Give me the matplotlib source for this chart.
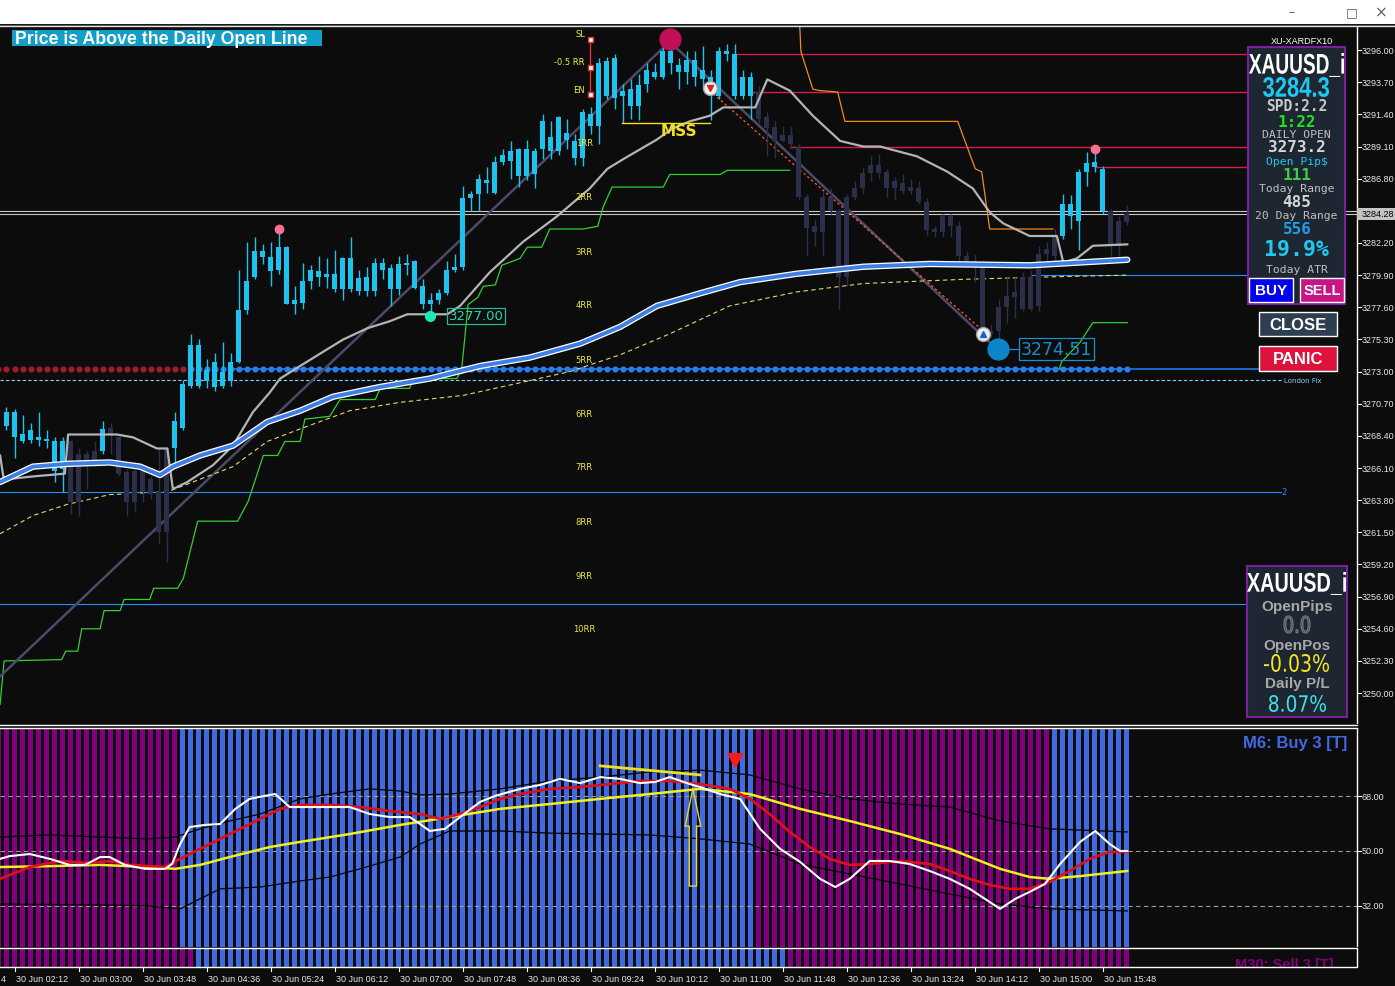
import numpy as np
import matplotlib
matplotlib.use("Agg")
import matplotlib.pyplot as plt
from matplotlib.patches import Rectangle, PathPatch
from matplotlib.lines import Line2D
from matplotlib.textpath import TextPath
from matplotlib.font_manager import FontProperties
from matplotlib.transforms import Affine2D

W, H = 1395, 987

# ---------------- price data: M6 bars, index 0 = 30 Jun 02:06 ----------------
opens = [3269.1, 3270.1, 3268.0, 3268.8, 3268.1, 3268.2, 3268.0, 3266.0, 3268.0, 3263.7,
         3267.1, 3266.5, 3267.3, 3269.0, 3268.3, 3265.8, 3263.7, 3265.9, 3264.3, 3264.4,
         3261.5, 3267.5, 3269.0, 3272.0, 3274.9, 3272.3, 3273.7, 3272.0, 3272.3, 3273.7,
         3277.4, 3279.8, 3281.2, 3281.2, 3280.3, 3281.9, 3277.8, 3277.9, 3279.5, 3280.2,
         3279.8, 3280.0, 3278.9, 3281.1, 3278.8, 3279.8, 3278.8, 3280.3, 3280.4, 3278.9,
         3280.8, 3280.9, 3279.1, 3277.8, 3278.1, 3278.6, 3280.3, 3280.5, 3285.4, 3285.7,
         3286.5, 3285.8, 3288.0, 3288.8, 3288.9, 3287.0, 3288.8, 3288.9, 3289.8, 3288.8,
         3290.1, 3289.5, 3288.3, 3291.4, 3290.6, 3295.2, 3292.6, 3293.1, 3292.0, 3293.5,
         3293.6, 3294.1, 3294.1, 3295.9, 3294.9, 3294.4, 3295.3, 3294.6, 3293.7, 3292.7,
         3295.9, 3295.7, 3292.7, 3294.1, 3293.0, 3291.2, 3290.5, 3289.9, 3289.9, 3289.1,
         3285.5, 3283.4, 3283.0, 3285.5, 3284.5, 3279.8, 3285.5, 3286.1, 3287.2, 3287.8,
         3287.3, 3286.6, 3286.5, 3286.2, 3286.1, 3285.1, 3283.2, 3283.0, 3284.1, 3283.4,
         3281.3, 3280.9, 3280.8, 3275.9, 3275.9, 3277.6, 3278.3, 3277.5, 3279.8, 3277.7,
         3281.4, 3281.3, 3282.7, 3285.0, 3283.8, 3287.3, 3287.6, 3287.5, 3284.5, 3282.0,
         3283.7]
highs = [3270.5, 3270.3, 3269.9, 3269.3, 3270.1, 3268.8, 3268.3, 3268.3, 3268.1, 3267.5,
         3267.3, 3268.0, 3269.5, 3269.3, 3268.4, 3266.0, 3266.2, 3266.0, 3265.5, 3267.5,
         3267.6, 3270.1, 3272.4, 3275.7, 3275.3, 3273.9, 3274.3, 3275.1, 3274.3, 3280.3,
         3282.3, 3282.6, 3282.1, 3282.3, 3283.2, 3282.0, 3279.1, 3280.8, 3280.6, 3281.3,
         3281.1, 3281.7, 3281.2, 3282.6, 3280.3, 3280.5, 3281.1, 3281.1, 3280.7, 3281.3,
         3281.4, 3281.0, 3279.6, 3278.6, 3278.9, 3280.9, 3281.4, 3286.3, 3285.9, 3287.1,
         3287.6, 3288.4, 3288.9, 3289.5, 3289.0, 3289.6, 3289.0, 3291.4, 3290.9, 3291.3,
         3291.1, 3290.0, 3291.8, 3291.9, 3295.4, 3295.5, 3295.7, 3293.6, 3293.9, 3294.3,
         3295.1, 3295.1, 3296.2, 3296.7, 3295.4, 3295.9, 3295.9, 3296.3, 3294.6, 3296.2,
         3296.4, 3296.4, 3294.6, 3294.4, 3293.4, 3291.6, 3290.9, 3290.6, 3290.6, 3289.3,
         3285.7, 3283.9, 3285.9, 3286.1, 3284.6, 3285.7, 3286.6, 3287.6, 3288.4, 3288.6,
         3287.5, 3286.9, 3287.1, 3286.8, 3286.6, 3285.4, 3283.4, 3284.3, 3284.3, 3283.8,
         3281.6, 3281.4, 3281.0, 3276.4, 3278.2, 3279.8, 3279.8, 3280.1, 3280.3, 3282.0,
         3282.3, 3283.2, 3285.7, 3285.6, 3287.5, 3288.7, 3288.9, 3287.7, 3284.6, 3284.1,
         3284.9]
lows = [3268.8, 3266.8, 3267.9, 3267.9, 3267.7, 3267.5, 3265.1, 3264.4, 3262.8, 3262.7,
        3264.6, 3266.2, 3267.1, 3267.1, 3265.5, 3262.7, 3263.0, 3263.7, 3263.9, 3260.7,
        3259.4, 3266.2, 3268.8, 3271.8, 3271.8, 3271.8, 3271.6, 3271.8, 3272.0, 3273.6,
        3277.1, 3279.6, 3280.7, 3279.1, 3280.0, 3277.8, 3277.1, 3277.5, 3278.9, 3279.1,
        3279.0, 3278.7, 3278.1, 3278.7, 3278.5, 3278.4, 3278.4, 3279.6, 3277.7, 3278.5,
        3279.9, 3278.9, 3277.5, 3277.0, 3277.8, 3278.5, 3280.1, 3280.3, 3284.5, 3284.5,
        3285.8, 3285.7, 3287.8, 3286.8, 3286.2, 3286.7, 3286.1, 3288.2, 3288.2, 3288.5,
        3288.9, 3287.8, 3287.7, 3290.0, 3289.3, 3292.5, 3291.8, 3290.8, 3291.1, 3291.0,
        3293.0, 3293.9, 3293.9, 3294.3, 3293.2, 3293.6, 3293.4, 3293.2, 3291.0, 3292.5,
        3295.2, 3292.5, 3292.5, 3291.1, 3290.8, 3288.4, 3288.3, 3289.4, 3288.9, 3285.3,
        3281.3, 3282.0, 3281.3, 3284.3, 3277.5, 3279.1, 3285.3, 3285.7, 3286.6, 3286.8,
        3285.5, 3285.3, 3285.7, 3285.7, 3285.0, 3282.8, 3282.6, 3282.6, 3282.6, 3280.9,
        3280.8, 3279.4, 3275.7, 3275.5, 3274.5, 3276.5, 3276.8, 3277.3, 3277.3, 3277.3,
        3280.9, 3280.9, 3282.5, 3283.2, 3281.7, 3286.3, 3287.3, 3284.3, 3281.3, 3281.1,
        3283.5]
closes = [3270.1, 3268.3, 3268.5, 3268.1, 3268.3, 3268.0, 3265.9, 3268.0, 3263.7, 3267.1,
          3266.4, 3267.3, 3268.9, 3268.5, 3265.7, 3263.7, 3265.9, 3264.4, 3265.3, 3261.5,
          3267.5, 3269.5, 3272.1, 3274.9, 3272.0, 3273.1, 3271.9, 3273.0, 3273.7, 3277.4,
          3279.5, 3281.6, 3281.6, 3280.2, 3281.9, 3277.8, 3278.1, 3279.5, 3280.3, 3279.8,
          3280.0, 3278.9, 3281.1, 3278.9, 3279.7, 3278.8, 3280.8, 3280.8, 3278.9, 3280.7,
          3280.6, 3279.0, 3277.8, 3278.1, 3278.6, 3280.3, 3280.5, 3285.4, 3285.7, 3286.8,
          3286.7, 3288.0, 3288.5, 3288.1, 3287.0, 3288.9, 3287.1, 3290.9, 3288.8, 3291.2,
          3289.6, 3288.3, 3291.6, 3290.6, 3295.1, 3292.7, 3295.4, 3292.7, 3293.2, 3292.0,
          3294.6, 3294.4, 3295.9, 3295.1, 3294.4, 3295.3, 3294.1, 3293.9, 3294.1, 3295.9,
          3295.7, 3292.7, 3294.1, 3292.7, 3291.1, 3290.4, 3289.5, 3289.5, 3289.3, 3285.5,
          3283.3, 3283.0, 3285.5, 3284.5, 3279.8, 3285.5, 3286.1, 3287.2, 3287.8, 3287.2,
          3286.1, 3286.1, 3285.9, 3285.9, 3285.1, 3283.1, 3283.0, 3284.1, 3283.4, 3281.3,
          3280.9, 3280.8, 3275.8, 3275.7, 3277.6, 3278.4, 3278.7, 3279.8, 3277.5, 3281.4,
          3281.8, 3282.7, 3285.0, 3284.1, 3287.3, 3287.9, 3288.0, 3284.5, 3282.1, 3283.8,
          3284.3]
down_bars = [(8, 11), (13, 20), (94, 131), (138, 140)]

# overlays (bar index, price)
ma_blue_n = [-0.8, 3.3, 7.6, 12.9, 16.7, 19.2, 20.8, 24.2, 28.3, 32.6, 36.7, 40.8, 46.7,
             52.9, 59.2, 65.4, 71.7, 76.7, 81.3, 86.7, 91.7, 98.8, 107.1, 115.4, 127.9, 140.1]
ma_blue_p = [3265.1, 3266.2, 3266.4, 3266.5, 3266.2, 3265.6, 3266.2, 3267.0, 3267.7, 3269.4,
             3270.2, 3271.2, 3271.9, 3272.5, 3273.4, 3274.0, 3275.0, 3276.2, 3277.7, 3278.6,
             3279.4, 3280.0, 3280.5, 3280.7, 3280.6, 3281.0]
ma_yel_n = [-0.8, 3.3, 7.6, 12.9, 20.1, 24.2, 28.3, 32.6, 36.7, 42.9, 49.2, 57.1, 64.2,
            70.4, 76.7, 82.9, 90.4, 98.8, 107.1, 119.6, 132.1, 140.1]
ma_yel_p = [3261.4, 3262.7, 3263.5, 3264.2, 3264.4, 3265.3, 3266.2, 3268.0, 3268.9, 3270.2,
            3270.8, 3271.3, 3272.2, 3273.0, 3274.2, 3275.7, 3277.7, 3278.7, 3279.3, 3279.6,
            3279.8, 3279.9]
gray_n = [-0.8, -0.4, 0.1, 3.3, 7.3, 7.7, 13.8, 15.8, 18.8, 20.1, 20.8, 22.6, 25.8, 28.3,
          30.8, 32.9, 34.2, 36.7, 40.1, 42.1, 45.1, 47.9, 50.1, 55.1, 56.7, 60.4, 64.6, 68.8,
          72.9, 75.1, 77.1, 79.2, 81.3, 83.3, 85.4, 87.9, 89.6, 93.6, 95.1, 97.9, 100.8,
          104.2, 107.1, 109.2, 113.8, 117.6, 120.8, 122.9, 124.6, 127.9, 131.3, 132.1,
          133.8, 135.8, 140.1]
gray_p = [3267.0, 3265.5, 3265.3, 3265.5, 3265.7, 3268.5, 3268.5, 3268.3, 3267.5, 3267.5,
          3264.6, 3265.1, 3266.3, 3267.7, 3270.1, 3271.5, 3272.5, 3273.4, 3274.6, 3275.3,
          3276.1, 3276.6, 3277.1, 3277.1, 3277.7, 3280.1, 3282.3, 3284.1, 3286.1, 3287.5,
          3288.2, 3288.9, 3289.6, 3290.4, 3290.9, 3291.3, 3291.9, 3291.9, 3293.9, 3293.1,
          3291.3, 3289.5, 3289.1, 3289.1, 3288.4, 3287.3, 3286.1, 3284.4, 3283.6, 3282.7,
          3282.7, 3280.8, 3281.1, 3282.0, 3282.1]
orange_n = [99.1, 99.3, 100.8, 101.7, 103.9, 104.8, 118.9, 121.1, 121.9, 122.9, 130.8]
orange_p = [3298.5, 3295.9, 3293.2, 3293.1, 3293.0, 3290.9, 3290.9, 3287.5, 3287.3, 3283.2, 3283.2]
green1_n = [-0.8, -0.3, 6.9, 7.4, 8.9, 9.4, 11.7, 12.2, 14.2, 14.7, 17.9, 18.4, 21.4, 22.1,
            23.9, 28.9, 30.2, 32.1, 33.9, 34.8, 36.7, 37.3, 40.4, 41.7, 46.1, 46.7, 50.4,
            50.8, 56.3, 56.9, 57.7, 58.9, 59.6, 61.1, 61.9, 64.2, 65.1, 66.9, 67.9, 72.1,
            73.9, 74.6, 75.7, 82.1, 82.9, 89.2, 90.1, 97.9]
green1_p = [3249.2, 3252.3, 3252.4, 3253.0, 3253.0, 3254.6, 3254.6, 3255.9, 3255.9, 3256.7,
            3256.7, 3257.5, 3257.5, 3258.2, 3262.3, 3262.3, 3263.7, 3267.0, 3267.0, 3268.0,
            3268.0, 3269.6, 3269.8, 3271.0, 3271.0, 3271.8, 3271.8, 3272.5, 3272.5, 3273.2,
            3277.8, 3278.3, 3279.1, 3279.2, 3280.6, 3281.1, 3281.9, 3281.9, 3283.2, 3283.2,
            3283.4, 3284.8, 3286.2, 3286.2, 3287.1, 3287.1, 3287.4, 3287.4]
green2_n = [131.6, 131.9, 134.2, 135.8, 140.1]
green2_p = [3273.2, 3273.7, 3275.1, 3276.5, 3276.5]
zigzag_n = [-0.8, 82.9, 122.1, 123.9]
zigzag_p = [3251.2, 3296.6, 3275.5, 3274.6]
proj_n = [87.9, 121.7]
proj_p = [3293.1, 3276.1]

res_levels = [3295.7, 3293.0, 3289.1, 3287.6]
res_start = [91.1, 92.9, 97.9, 136.1]
daily_open = 3273.2
london_fix = 3272.4
level_2 = 3264.4
level_low = 3256.4
atr_level = 3279.9
bid, ask = 3284.28, 3284.50
sl_levels = [3296.8, 3294.8, 3292.85]
sl_labels = ["SL", "-0.5 RR", "EN"]
rr_levels = [3289.4, 3285.5, 3281.6, 3277.8, 3273.9, 3270.0, 3266.2, 3262.3, 3258.4, 3254.6]
mss_level = 3290.8
price_ticks = [3296.00, 3293.70, 3291.40, 3289.10, 3286.80, 3282.20, 3279.90, 3277.60,
               3275.30, 3273.00, 3270.70, 3268.40, 3266.10, 3263.80, 3261.50, 3259.20,
               3256.90, 3254.60, 3252.30, 3250.00]

# ---------------- lower oscillator panel (bar index, value) ----------------
osc_n = [-0.8, 0.4, 2.9, 5.4, 7.9, 9.8, 11.7, 12.9, 14.8, 17.3, 19.8, 20.7, 21.7, 22.9,
         24.8, 26.7, 28.6, 30.4, 32.3, 33.6, 35.4, 40.4, 42.9, 45.4, 47.9, 50.4, 51.7,
         52.9, 54.8, 56.7, 59.2, 61.1, 64.2, 66.7, 69.2, 71.7, 74.2, 76.7, 79.2, 81.1,
         82.9, 85.4, 86.7, 89.2, 91.7, 94.2, 96.7, 99.2, 101.7, 103.6, 105.4, 107.9,
         110.4, 112.9, 115.4, 117.9, 120.4, 122.3, 124.2, 126.1, 127.9, 129.8, 131.7,
         134.2, 136.1, 137.9, 139.2, 140.1]
osc_v = [47.4, 48.3, 49.0, 47.4, 45.4, 45.4, 48.0, 48.0, 45.4, 44.1, 44.1, 45.7, 52.3, 57.9,
         58.6, 58.9, 63.9, 67.2, 68.2, 68.8, 64.5, 64.5, 64.5, 62.2, 61.2, 61.2, 58.9,
         56.6, 57.3, 61.2, 66.2, 68.2, 70.5, 71.8, 73.8, 72.4, 74.4, 73.8, 72.4, 72.8,
         74.4, 72.1, 71.1, 68.8, 67.2, 57.3, 50.7, 46.4, 40.8, 38.1, 40.8, 46.7, 46.7,
         45.7, 43.4, 40.8, 37.5, 34.2, 30.9, 34.2, 36.5, 39.1, 45.7, 53.0, 56.6, 52.3,
         50.0, 50.0]
sig_n = [-0.8, 2.9, 6.7, 10.4, 12.9, 15.4, 19.8, 21.7, 24.2, 27.9, 31.7, 34.2, 36.7, 40.4,
         44.2, 47.9, 51.7, 54.2, 56.7, 59.2, 61.7, 64.2, 67.9, 71.7, 75.4, 79.2, 82.9,
         86.7, 90.4, 92.9, 95.4, 97.9, 100.4, 102.9, 105.4, 107.9, 111.7, 115.4, 117.9,
         120.4, 122.9, 125.4, 127.9, 130.4, 132.9, 135.4, 137.9, 140.1]
sig_v = [40.8, 44.7, 46.7, 46.0, 46.7, 45.4, 44.7, 47.4, 50.7, 55.6, 60.6, 63.9, 65.2, 65.2,
         64.5, 63.2, 62.2, 60.6, 62.2, 64.5, 67.2, 68.8, 70.5, 71.1, 72.1, 73.1, 73.1,
         72.1, 70.5, 67.2, 62.2, 56.3, 51.3, 47.4, 45.4, 45.7, 46.7, 45.7, 43.4, 40.8,
         38.8, 37.5, 37.5, 39.8, 43.4, 47.4, 49.7, 49.7]
slow_n = [-0.8, 5.4, 11.7, 17.9, 21.1, 24.2, 27.9, 32.9, 36.7, 42.9, 49.2, 55.4, 61.7, 67.9,
          74.2, 80.4, 86.7, 92.9, 99.2, 105.4, 111.7, 117.9, 124.2, 127.9, 130.4, 134.2, 140.1]
slow_v = [44.7, 45.0, 45.4, 44.7, 44.1, 45.4, 48.0, 51.3, 53.0, 55.6, 58.6, 61.2, 63.9, 65.5,
          67.2, 68.8, 70.5, 68.8, 63.9, 59.9, 55.6, 50.7, 44.1, 41.4, 40.8, 41.7, 43.4]
band_up_n = [-0.8, 5.4, 11.7, 17.9, 21.1, 24.2, 27.9, 31.7, 36.7, 40.4, 45.4, 49.2, 51.7,
             55.4, 61.7, 67.9, 74.2, 80.4, 86.7, 92.9, 99.2, 105.4, 111.7, 117.9, 124.2,
             130.4, 140.1]
band_up_v = [54.6, 55.3, 54.6, 54.0, 54.6, 57.3, 59.9, 62.2, 67.2, 68.8, 70.5, 69.8, 68.5,
             68.8, 70.5, 73.1, 74.4, 76.1, 76.7, 75.1, 70.5, 67.2, 65.5, 64.5, 59.9, 57.3, 56.3]
band_lo_n = [-0.8, 11.7, 17.9, 21.7, 24.2, 26.7, 31.7, 36.7, 40.4, 44.2, 49.2, 51.7, 55.4,
             61.7, 67.9, 74.2, 80.4, 86.7, 92.9, 99.2, 105.4, 111.7, 117.9, 124.2, 130.4, 140.1]
band_lo_v = [32.5, 32.2, 31.8, 30.9, 34.2, 37.5, 38.1, 40.1, 41.4, 44.1, 48.0, 52.3, 56.6,
             56.6, 55.9, 55.6, 55.3, 54.0, 52.3, 45.7, 42.4, 39.1, 35.8, 32.5, 30.9, 30.2]
osc_levels = [68.0, 50.0, 32.0]
m6_buy = [(22, 93), (131, 140)]
m30_buy = [(24, 97)]

time_labels = ["30 Jun 02:12", "30 Jun 03:00", "30 Jun 03:48", "30 Jun 04:36", "30 Jun 05:24",
               "30 Jun 06:12", "30 Jun 07:00", "30 Jun 07:48", "30 Jun 08:36", "30 Jun 09:24",
               "30 Jun 10:12", "30 Jun 11:00", "30 Jun 11:48", "30 Jun 12:36", "30 Jun 13:24",
               "30 Jun 14:12", "30 Jun 15:00", "30 Jun 15:48"]

BG = "#0c0c0c"
CYAN = "#1cc3ee"
DARK = "#2c2f4a"
PURPLE = "#800080"
ROYAL = "#4169e1"

fig = plt.figure(figsize=(W / 100, H / 100), dpi=100, facecolor=BG)
XL = (-6.5 / 8, (W - 6.5) / 8)       # bar index range across the full width
N_AX = (1356.5 - 6.5) / 8            # price scale line
N_LAB = (1361.5 - 6.5) / 8
N_END = (1281 - 6.5) / 8


def make_axes(y0, y1, ylim):
    a = fig.add_axes([0, 1 - y1 / H, 1, (y1 - y0) / H])
    a.set_facecolor(BG)
    a.set_xlim(XL)
    a.set_ylim(ylim)
    a.set_xticks([])
    a.set_yticks([])
    for s in a.spines.values():
        s.set_visible(False)
    return a


def box(x0, y0, x1, y1, fc, ec="none", lw=1.0, z=2):
    fig.add_artist(Rectangle((x0 / W, 1 - y1 / H), (x1 - x0) / W, (y1 - y0) / H,
                             transform=fig.transFigure, fc=fc, ec=ec, lw=lw, zorder=z))


def ftext(x, y, s, **kw):
    kw.setdefault("ha", "center")
    kw.setdefault("va", "center")
    kw.setdefault("zorder", 6)
    fig.text(x / W, 1 - y / H, s, **kw)


def fline(x0, y0, x1, y1, color, lw=1.0):
    fig.add_artist(Line2D([x0 / W, x1 / W], [1 - y0 / H, 1 - y1 / H],
                          transform=fig.transFigure, color=color, lw=lw, zorder=3))


def fit_text(s, x0, y0, x1, y1, color, weight="bold", family="Liberation Sans", edge=None):
    # narrow, tall text squeezed into a pixel box
    tp = TextPath((0, 0), s, size=20, prop=FontProperties(family=family, weight=weight))
    bb = tp.get_extents()
    tr = (Affine2D().translate(-bb.x0, -bb.y0)
          .scale((x1 - x0) / bb.width, (y1 - y0) / bb.height)
          .translate(x0, H - y1).scale(1 / W, 1 / H))
    if edge:
        p = PathPatch(tp, fc="none", ec=edge, lw=0.9, transform=tr + fig.transFigure, zorder=6)
    else:
        p = PathPatch(tp, fc=color, ec="none", transform=tr + fig.transFigure, zorder=6)
    fig.add_artist(p)


# ---------------- main price chart ----------------
ax = make_axes(28, 725, (3247.79, 3297.65))
n = np.arange(len(opens))
o, h, l, c = (np.array(v) for v in (opens, highs, lows, closes))
is_dn = np.zeros(len(n), bool)
for a, b in down_bars:
    is_dn[a:b + 1] = True
col = np.where(is_dn, DARK, CYAN)

# horizontal levels
ax.plot([XL[0], N_AX], [bid, bid], color="#c8c8c8", lw=0.8, zorder=2)
ax.plot([XL[0], N_AX], [ask, ask], color="#c8c8c8", lw=0.8, zorder=2)
for lv, st in zip(res_levels, res_start):
    ax.plot([st, N_END], [lv, lv], color="#d0204a", lw=1.0, zorder=2)
ax.plot([XL[0], N_END + 0.2], [london_fix] * 2, color="#87cefa", lw=0.8, ls=(0, (3, 2)), zorder=2)
ax.text(N_END + 0.4, london_fix, "London Fix", color="#87cefa", fontsize=5, va="center")
ax.plot([XL[0], N_END], [level_2] * 2, color="#1e90ff", lw=0.8, zorder=2)
ax.text(N_END + 0.1, level_2, "2", color="#1e90ff", fontsize=6, va="center")
ax.plot([XL[0], N_END], [level_low] * 2, color="#1e90ff", lw=0.8, zorder=2)
ax.plot([128, N_END], [atr_level] * 2, color="#1e90ff", lw=0.8, zorder=2)
ax.plot([27.9, N_END], [daily_open] * 2, color="#1e78f0", lw=1.2, zorder=2)
ax.plot(np.arange(-1, 23), [daily_open] * 24, "o", ms=3.4, color="#a01c28", zorder=3)
ax.plot(np.arange(23, 141), [daily_open] * 118, "o", ms=3.4, color="#2b7de9", zorder=3)

# indicator lines
ax.plot(green1_n, green1_p, color="#2fd02f", lw=0.9, zorder=3)
ax.plot(green2_n, green2_p, color="#2fd02f", lw=0.9, zorder=3)
ax.plot(orange_n, orange_p, color="#f08a1c", lw=0.9, zorder=3)
ax.plot(zigzag_n, zigzag_p, color="#4d4a68", lw=1.8, zorder=3)
ax.plot(proj_n, proj_p, color="#ff5a2a", lw=0.9, ls=(0, (2, 2)), zorder=3)
ax.plot(ma_yel_n, ma_yel_p, color="#e8d868", lw=0.8, ls=(0, (4, 3)), zorder=4)

# candles
ax.vlines(n, l, h, colors=col, lw=1.0, zorder=5)
ax.bar(n, np.maximum(np.abs(c - o), 0.1), bottom=np.minimum(o, c), width=0.62,
       color=col, lw=0, zorder=5)

ax.plot(gray_n, gray_p, color="#b4b4b4", lw=1.6, zorder=6)
ax.plot(ma_blue_n, ma_blue_p, color="white", lw=4.6, zorder=6, solid_capstyle="round")
ax.plot(ma_blue_n, ma_blue_p, color="#3d7fe6", lw=2.8, zorder=7, solid_capstyle="round")

# swing markers
ax.plot(82.9, 3296.8, "o", ms=15, color="#c0105a", zorder=8)
ax.plot([34.0, 136.1], [3283.2, 3288.9], "o", ms=6, color="#ff6f8f", zorder=8)
ax.plot(52.9, 3277.0, "o", ms=7, color="#1de9b6", zorder=8)
ax.text(55.3, 3277.0, "3277.00", color="#20d8b0", fontsize=9.5, va="center", zorder=8,
        bbox=dict(boxstyle="square,pad=0.12", fc="none", ec="#20b898", lw=0.9))
ax.plot([123.9, 126.6], [3274.6, 3274.6], color="#1a8cc8", lw=0.9, zorder=8)
ax.plot(123.9, 3274.6, "o", ms=15, color="#0a86c8", zorder=8)
ax.text(126.8, 3274.6, "3274.51", color="#1a8cc8", fontsize=12.5, va="center", zorder=8,
        bbox=dict(boxstyle="square,pad=0.1", fc="none", ec="#1a8cc8", lw=0.9))
ax.plot(87.9, 3293.3, "o", ms=10, mfc="#f0f0f0", mec="#a0a0a0", zorder=8)
ax.plot(87.9, 3293.3, "v", ms=4.5, color="#e02020", zorder=9)
ax.plot(122.1, 3275.7, "o", ms=10, mfc="#f0f0f0", mec="#a0a0a0", zorder=8)
ax.plot(122.1, 3275.7, "^", ms=4.5, color="#1565c0", zorder=9)

# SL / EN bracket and RR ladder
ax.plot([72.9] * 3, sl_levels, color="#e03030", lw=1.0, zorder=8)
ax.plot([72.9] * 3, sl_levels, "s", ms=3.6, mfc="white", mec="#e03030", mew=1, zorder=9)
for lv, lab in zip(sl_levels, sl_labels):
    ax.text(72.3, lv + 0.35, lab, color="#f0f040", fontsize=6, ha="right", va="center", zorder=8)
for i, lv in enumerate(rr_levels):
    ax.text(72.2, lv, f"{i + 1}RR", color="#e8e840", fontsize=6, ha="center", va="center", zorder=8)
ax.plot([76.9, 87.9], [mss_level, mss_level], color="#f0e020", lw=1.0, zorder=8)
ax.text(84.0, mss_level - 0.55, "MSS", color="#f0e020", fontsize=11, fontweight="bold",
        ha="center", va="center", zorder=8)

# price scale
ax.axvline(N_AX, color="white", lw=1.0, zorder=9)
for lv in price_ticks:
    ax.plot([N_AX, N_AX + 0.5], [lv, lv], color="white", lw=0.8, zorder=9, clip_on=False)
    ax.text(N_LAB, lv, f"{lv:.2f}", color="#e6e6e6", fontsize=6.5, family="Liberation Sans",
            va="center", ha="left", zorder=9)
ax.add_patch(Rectangle((N_AX + 0.1, bid - 0.43), XL[1] - N_AX, 0.86, fc="#c4c4c4", ec="none", zorder=9))
ax.text(N_LAB, bid, f"{bid:.2f}", color="black", fontsize=6.5, family="Liberation Sans",
        va="center", ha="left", zorder=10)

# ---------------- oscillator panel ----------------
axl = make_axes(729, 948, (18.3, 90.6))
nb = np.arange(-1, 141)
m6_col = np.array([PURPLE] * len(nb), dtype=object)
for a, b in m6_buy:
    m6_col[(nb >= a) & (nb <= b)] = ROYAL
axl.bar(nb, 90.6 - 18.3, bottom=18.3, width=0.6, color=list(m6_col), lw=0, zorder=1)
for lv in osc_levels:
    axl.plot([XL[0], N_AX], [lv, lv], color="#9a9a9a", lw=0.8, ls=(0, (4, 3)), zorder=2)
    axl.plot([N_AX, N_AX + 0.5], [lv, lv], color="white", lw=0.8, zorder=9)
    axl.text(N_LAB, lv, f"{lv:.2f}", color="#e6e6e6", fontsize=6.5, family="Liberation Sans",
             va="center", ha="left", zorder=9)
axl.axvline(N_AX, color="white", lw=1.0, zorder=9)
axl.plot(band_up_n, band_up_v, color="black", lw=0.9, zorder=3)
axl.plot(band_lo_n, band_lo_v, color="black", lw=0.9, zorder=3)
axl.plot(slow_n, slow_v, color="#f0f020", lw=1.8, zorder=4)
axl.plot(sig_n, sig_v, color="#e0101a", lw=1.9, zorder=5)
axl.plot(osc_n, osc_v, color="white", lw=1.5, zorder=6)
axl.plot([74.2, 86.7], [78.1, 75.1], color="#f0e020", lw=2.0, zorder=7)
axl.annotate("", xy=(85.8, 71.5), xytext=(85.8, 37.5), zorder=7,
             arrowprops=dict(arrowstyle="simple,head_length=1.8,head_width=0.75,tail_width=0.35",
                             mutation_scale=15, fc="none", ec="#e8d820", lw=1.0))
axl.annotate("", xy=(91.1, 76.8), xytext=(91.1, 81.6), zorder=7,
             arrowprops=dict(arrowstyle="simple,head_length=0.8,head_width=0.9,tail_width=0.35",
                             mutation_scale=12, fc="#ff1a1a", ec="#ff1a1a"))
ftext(1347, 743.5, "M6: Buy 3 [T]", color=ROYAL, fontsize=12, fontweight="bold",
      family="Liberation Sans", ha="right")

# ---------------- M30 strip ----------------
axs = make_axes(950, 968, (0, 1))
m30_col = np.array([PURPLE] * len(nb), dtype=object)
for a, b in m30_buy:
    m30_col[(nb >= a) & (nb <= b)] = ROYAL
axs.bar(nb, 1, width=0.6, color=list(m30_col), lw=0)
axs.axvline(N_AX, color="white", lw=1.0)
axs.text((1334 - 6.5) / 8, 0.15, "M30: Sell 3 [T]", color=PURPLE, fontsize=10.5, fontweight="bold",
         family="Liberation Sans", ha="right", va="center", clip_on=True)

# ---------------- time axis ----------------
axt = make_axes(968, 987, (0, 1))
for k, lab in enumerate(time_labels):
    xn = 1 + 8 * k
    axt.plot([xn, xn], [1, 0.78], color="white", lw=0.8)
    axt.text(xn + 0.15, 0.42, lab, color="#e6e6e6", fontsize=6.5, family="Liberation Sans",
             ha="left", va="center")
# tail of the previous (off-screen) label
axt.text(XL[0] + 0.05, 0.42, "4", color="#e6e6e6", fontsize=6.5, family="Liberation Sans",
         ha="left", va="center")

# frame lines
box(0, 0, W, 25, "#ffffff", z=3)
fline(0, 25.5, W, 25.5, "#404040", 1)
fline(0, 27, W, 27, "#e0e0e0", 1)
fline(0, 726, 1357, 726, "white", 1)
fline(0, 728.5, 1357, 728.5, "white", 1)
fline(0, 949, 1357, 949, "white", 1)
fline(0, 968, 1357, 968, "white", 1)
ftext(1292, 13, "\u2013", color="#606060", fontsize=9)
ftext(1352, 13, "\u25a1", color="#606060", fontsize=9)
ftext(1381, 13, "\u00d7", color="#606060", fontsize=11)

# top-left banner
box(12, 31, 322, 47, "#139ec8", z=3)
ftext(15, 39, "Price is Above the Daily Open Line", color="white", fontsize=12.8,
      fontweight="bold", family="Liberation Sans", ha="left")

# ---------------- info panel ----------------
PANEL = "#1e2632"
EDGE = "#7a1fa0"
ftext(1302, 41, "XU-XARDFX10", color="white", fontsize=6.5, family="Liberation Sans")
box(1248, 48, 1345, 305, PANEL, EDGE, 1.5)
fit_text("XAUUSD_i", 1249, 54, 1344, 78, "white")
fit_text("3284.3", 1263, 78, 1329, 98, "#1ec8f0")
mono = "DejaVu Sans Mono"
ftext(1297, 106.5, "SPD:2.2", color="#c8c8c8", fontsize=10.5, fontweight="bold", family=mono)
ftext(1297, 122.5, "1:22", color="#22e022", fontsize=11.5, fontweight="bold", family=mono)
ftext(1296, 134.5, "DAILY OPEN", color="#c0c0c0", fontsize=8.2, family=mono)
ftext(1297, 147.5, "3273.2", color="#d6d6d6", fontsize=11.5, fontweight="bold", family=mono)
ftext(1297, 162, "Open Pip$", color="#1ec8f0", fontsize=8.2, family=mono)
ftext(1297, 175, "111", color="#44cc44", fontsize=11.5, fontweight="bold", family=mono)
ftext(1297, 189, "Today Range", color="#c0c0c0", fontsize=8.2, family=mono)
ftext(1297, 203, "485", color="#d6d6d6", fontsize=11.5, fontweight="bold", family=mono)
ftext(1296, 216, "20 Day Range", color="#c0c0c0", fontsize=8.2, family=mono)
ftext(1297, 229.5, "556", color="#1ea0e6", fontsize=11.5, fontweight="bold", family=mono)
ftext(1297, 250.5, "19.9%", color="#1ec8f0", fontsize=15.5, fontweight="bold", family=mono)
ftext(1297, 270, "Today ATR", color="#c0c0c0", fontsize=8.2, family=mono)
box(1249, 279, 1293, 303, "#0000f0", "white", 1.0, z=4)
box(1300, 279, 1344, 303, "#c71585", "white", 1.0, z=4)
ftext(1271, 291, "BUY", color="white", fontsize=11, fontweight="bold", family="Liberation Sans")
ftext(1322, 291, "SELL", color="white", fontsize=10.5, fontweight="bold", family="Liberation Sans")
box(1259, 313, 1337, 337, "#2c3e50", "white", 1.0, z=4)
ftext(1298, 325.5, "CLOSE", color="white", fontsize=12, fontweight="bold", family="Liberation Sans")
box(1259, 347, 1337, 372, "#dc143c", "white", 1.0, z=4)
ftext(1298, 359.5, "PANIC", color="white", fontsize=12, fontweight="bold", family="Liberation Sans")

# ---------------- P/L panel ----------------
box(1247, 567, 1347, 718, PANEL, EDGE, 1.5)
fit_text("XAUUSD_i", 1247, 573, 1346, 596, "white")
ftext(1297, 606.5, "OpenPips", color="#a8a8a8", fontsize=11, fontweight="bold", family="Liberation Sans")
fit_text("0.0", 1284, 617, 1310, 634, None, weight="normal", family="DejaVu Sans", edge="#7a7a7a")
ftext(1297, 646, "OpenPos", color="#a8a8a8", fontsize=11, fontweight="bold", family="Liberation Sans")
fit_text("-0.03%", 1264, 655, 1329, 673, "#f5e61e", weight="normal", family="DejaVu Sans")
ftext(1297, 684.5, "Daily P/L", color="#a8a8a8", fontsize=11, fontweight="bold", family="Liberation Sans")
fit_text("8.07%", 1269, 696, 1326, 713, "#3ee0e8", weight="normal", family="DejaVu Sans")

fig.savefig("out.png", dpi=100, facecolor=BG)
